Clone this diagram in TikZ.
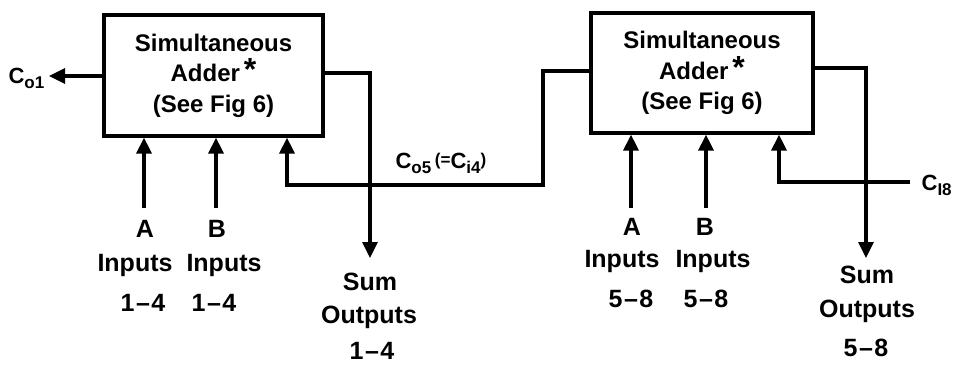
\documentclass[tikz,border=0pt]{standalone}
\usepackage{fontspec}
\setmainfont{Liberation Sans}
\usetikzlibrary{arrows.meta}
\newcommand{\sbs}[1]{\raisebox{-5.5pt}{\fontsize{17}{17}\selectfont #1}}
\newcommand{\dsh}{\kern1.5pt--\kern1.5pt}
\begin{document}
\begin{tikzpicture}[x=1pt,y=-1pt,
  line width=3.2pt,
  arr/.style={-{Triangle[length=16pt,width=15pt]}},
  adder/.style={draw, rectangle, align=center, inner sep=0pt,
    font=\bfseries\fontsize{24}{30.5}\selectfont},
  lbl/.style={font=\bfseries\fontsize{25}{26}\selectfont, anchor=base, inner sep=0pt},
  clbl/.style={font=\bfseries\fontsize{22}{22}\selectfont, anchor=base west, inner sep=0pt},
]
\useasboundingbox (0,0) rectangle (963,365);

% boxes
\node[adder, minimum width=219pt, minimum height=121pt] (L) at (213.5,75.5)
  {Simultaneous\\Adder\,\raisebox{1pt}{\fontsize{32}{32}\selectfont *}\\(See Fig 6)};
\node[adder, minimum width=222pt, minimum height=120pt] (R) at (702,73)
  {Simultaneous\\Adder\,\raisebox{1pt}{\fontsize{32}{32}\selectfont *}\\(See Fig 6)};

% carry labels
\node[clbl] (co1) at (7,83) {C\sbs{o1}};
\node[clbl] (co5) at (394,168) {C\sbs{o5}\,\raisebox{3pt}{\fontsize{17}{17}\selectfont(=}C\sbs{i4}\raisebox{3pt}{\fontsize{17}{17}\selectfont)}};
\node[clbl] (ci8) at (920,190) {C\sbs{I8}};

% left connectors
\coordinate (co1t) at (49,76);
\draw[arr] (L.west |- co1t) -- (co1t);
\coordinate (a1) at (144,208);
\draw[arr] (a1) -- (a1 |- L.south);
\coordinate (b1) at (216,208);
\draw[arr] (b1) -- (b1 |- L.south);
\coordinate (k1) at (543,71);
\coordinate (k2) at (287,185);
\draw[arr] (R.west |- k1) -- (k1) |- (k2) -- (k2 |- L.south);
\coordinate (s1) at (370,73);
\coordinate (s1e) at (370,258);
\draw[arr] (L.east |- s1) -- (s1) -- (s1e);

% right connectors
\coordinate (a2) at (631,208);
\draw[arr] (a2) -- (a2 |- R.south);
\coordinate (b2) at (706,208);
\draw[arr] (b2) -- (b2 |- R.south);
\coordinate (c18) at (910,182);
\coordinate (c18b) at (779,182);
\draw[arr] (c18) -- (c18b) -- (c18b |- R.south);
\coordinate (s2) at (866,68);
\coordinate (s2e) at (866,258);
\draw[arr] (R.east |- s2) -- (s2) -- (s2e);

% bottom labels, left
\node[lbl] (la1) at (145,237) {A};
\node[lbl] (li1) at (135,271) {Inputs};
\node[lbl] (ln1) at (143,311) {1\dsh4};
\node[lbl] (lb1) at (217,237) {B};
\node[lbl] (lj1) at (224,271) {Inputs};
\node[lbl] (lm1) at (214,311) {1\dsh4};
\node[lbl] (ls1) at (370,290) {Sum};
\node[lbl] (lo1) at (369,323) {Outputs};
\node[lbl] (lr1) at (372,359) {1\dsh4};

% bottom labels, right
\node[lbl] (la2) at (632,235) {A};
\node[lbl] (li2) at (622,267) {Inputs};
\node[lbl] (ln2) at (631,307) {5\dsh8};
\node[lbl] (lb2) at (705,235) {B};
\node[lbl] (lj2) at (713,267) {Inputs};
\node[lbl] (lm2) at (706,307) {5\dsh8};
\node[lbl] (ls2) at (867,283) {Sum};
\node[lbl] (lo2) at (867,317) {Outputs};
\node[lbl] (lr2) at (866,356) {5\dsh8};
\end{tikzpicture}
\end{document}
